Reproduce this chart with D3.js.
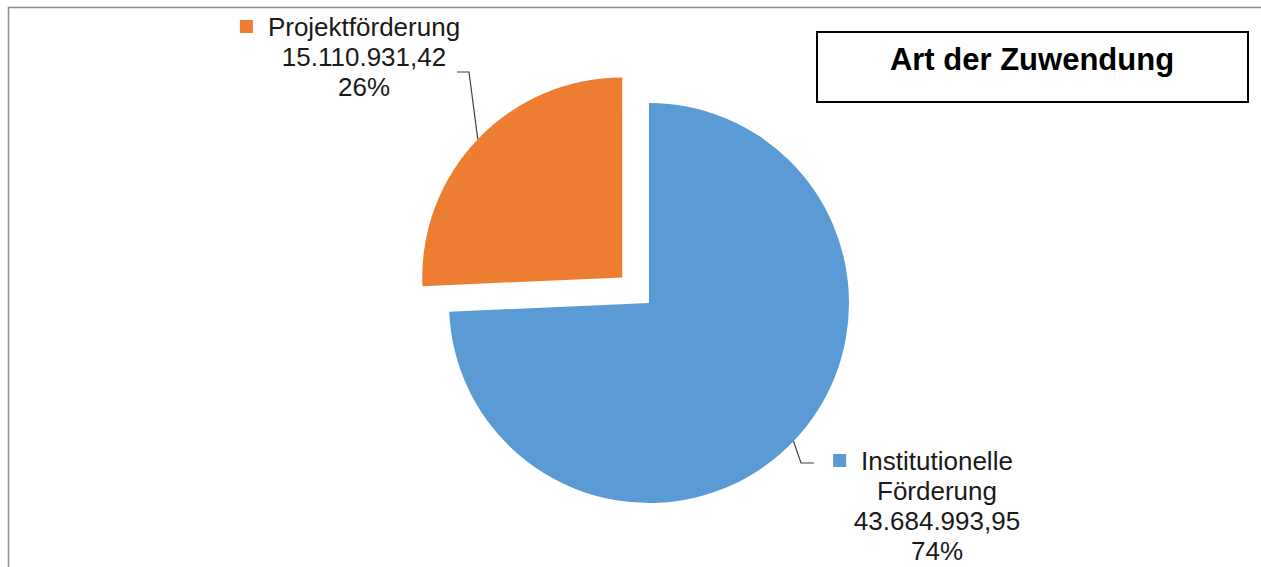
<!DOCTYPE html>
<html>
<head>
<meta charset="utf-8">
<script src="https://cdn.jsdelivr.net/npm/d3@7"></script>
<style>
  html, body { margin: 0; padding: 0; background: #fff; }
  svg { display: block; font-family: "Liberation Sans", Arial, sans-serif; }
</style>
</head>
<body>
<svg id="chart" width="1261" height="567"></svg>
<script>
// data
const categories = ["Institutionelle Förderung", "Projektförderung"];
const values = [43684993.95, 15110931.42];
const colors = ["#5B9BD5", "#ED7D31"];
const title = "Art der Zuwendung";

// label layout: text center x, first baseline, wrapped lines, leader elbow + end
const labelLayout = [
  { x: 937, y: 470, lines: ["Institutionelle", "Förderung"], elbow: [801, 463], end: [814, 463] },
  { x: 364, y: 36, lines: ["Projektförderung"], elbow: [469, 72], end: [457, 72] }
];

const svg = d3.select("#chart");
const width = 1261, height = 567;

const de = d3.formatLocale({ decimal: ",", thousands: ".", grouping: [3], currency: ["", " €"] });
const fmtValue = de.format(",.2f");
const total = d3.sum(values);

// chart area frame (top + left edge visible)
svg.append("path")
  .attr("d", `M8.5,${height} V7.5 H${width}`)
  .attr("fill", "none")
  .attr("stroke", "#8f8f8f")
  .attr("stroke-width", 1.5);

const cx = 649, cy = 303, radius = 200, explode = 37;

const pie = d3.pie().sort(null).value((d) => d.value);
const arcs = pie(categories.map((c, i) => ({ name: c, value: values[i], i })));
const arc = d3.arc().innerRadius(0).outerRadius(radius);

const g = svg.append("g").attr("transform", `translate(${cx},${cy})`);

// orange slice is pulled out of the pie
const offset = (d) => {
  if (d.data.i !== 1) return [0, 0];
  const mid = (d.startAngle + d.endAngle) / 2;
  return [explode * Math.sin(mid), -explode * Math.cos(mid)];
};

g.selectAll("path.slice")
  .data(arcs)
  .join("path")
  .attr("class", "slice")
  .attr("d", arc)
  .attr("fill", (d) => colors[d.data.i])
  .attr("transform", (d) => `translate(${offset(d)})`);

// leader lines
arcs.forEach((d) => {
  const L = labelLayout[d.data.i];
  const mid = (d.startAngle + d.endAngle) / 2;
  const [ox, oy] = offset(d);
  const px = cx + ox + radius * Math.sin(mid);
  const py = cy + oy - radius * Math.cos(mid);
  svg.append("path")
    .attr("d", `M${px},${py} L${L.elbow[0]},${L.elbow[1]} L${L.end[0]},${L.end[1]}`)
    .attr("fill", "none")
    .attr("stroke", "#404040")
    .attr("stroke-width", 1.2);
});

// data labels
const fontSize = 26, lineH = 30;
arcs.forEach((d) => {
  const L = labelLayout[d.data.i];
  const rows = L.lines.concat([fmtValue(d.data.value), Math.round(d.data.value / total * 100) + "%"]);
  const t = svg.append("text")
    .attr("text-anchor", "middle")
    .attr("font-size", fontSize)
    .attr("fill", "#1a1a1a");
  rows.forEach((r, k) => {
    t.append("tspan").attr("x", L.x).attr("y", L.y + k * lineH).text(r);
  });
  // legend key in front of the first line
  const first = t.select("tspan").node();
  const w = first.getComputedTextLength();
  svg.append("rect")
    .attr("x", L.x - w / 2 - 28)
    .attr("y", L.y - 16)
    .attr("width", 13)
    .attr("height", 13)
    .attr("fill", colors[d.data.i]);
});

// title box
svg.append("rect")
  .attr("x", 817).attr("y", 32)
  .attr("width", 431).attr("height", 70)
  .attr("fill", "#fff")
  .attr("stroke", "#000")
  .attr("stroke-width", 2);
svg.append("text")
  .attr("x", 1032).attr("y", 70)
  .attr("text-anchor", "middle")
  .attr("font-size", 31)
  .attr("font-weight", "bold")
  .attr("fill", "#000")
  .text(title);
</script>
</body>
</html>
